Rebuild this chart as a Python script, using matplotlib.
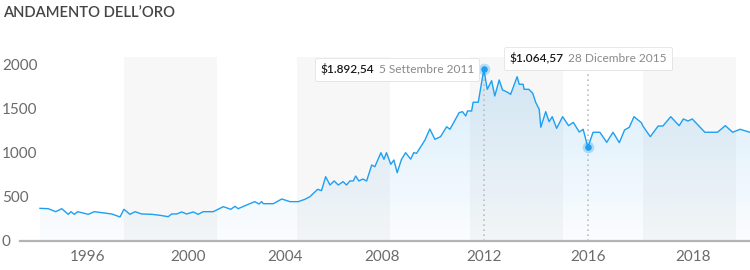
import numpy as np
import matplotlib
matplotlib.use("Agg")
import matplotlib.pyplot as plt
from matplotlib import patheffects
from matplotlib.offsetbox import TextArea, HPacker, AnnotationBbox

plt.rcParams['font.family'] = ['Lato', 'DejaVu Sans']

# gold price (USD/oz)
years = [1994.08, 1994.41, 1994.71, 1994.95, 1995.21, 1995.32, 1995.45, 1995.59, 1996.01, 1996.25,
         1996.95, 1997.28, 1997.44, 1997.68, 1997.88, 1998.15, 1998.55, 1998.88, 1999.21, 1999.35,
         1999.55, 1999.75, 1999.95, 2000.22, 2000.42, 2000.63, 2001.04, 2001.46, 2001.77, 2001.94,
         2002.07, 2002.42, 2002.76, 2002.93, 2003.04, 2003.11, 2003.52, 2003.87, 2004.21, 2004.55,
         2004.82, 2005.03, 2005.35, 2005.51, 2005.68, 2005.86, 2006.03, 2006.20, 2006.40, 2006.54,
         2006.68, 2006.82, 2006.92, 2007.05, 2007.21, 2007.37, 2007.58, 2007.71, 2007.96, 2008.08,
         2008.18, 2008.35, 2008.47, 2008.60, 2008.77, 2008.93, 2009.13, 2009.25, 2009.36, 2009.69,
         2009.88, 2010.08, 2010.30, 2010.54, 2010.67, 2011.03, 2011.16, 2011.29, 2011.36, 2011.52,
         2011.58, 2011.78, 2012.00, 2012.13, 2012.30, 2012.42, 2012.59, 2012.72, 2012.87, 2013.03,
         2013.28, 2013.36, 2013.51, 2013.55, 2013.73, 2013.88, 2014.00, 2014.13, 2014.19, 2014.38,
         2014.51, 2014.63, 2014.80, 2015.03, 2015.26, 2015.44, 2015.67, 2015.82, 2016.00, 2016.10,
         2016.23, 2016.36, 2016.48, 2016.60, 2016.70, 2016.79, 2016.88, 2017.02, 2017.05, 2017.19,
         2017.34, 2017.43, 2017.58, 2017.74, 2017.82, 2017.91, 2017.99, 2018.23, 2018.47, 2018.62,
         2018.76, 2018.90, 2019.09]
prices = [371, 367, 333, 367, 303, 333, 303, 333, 303, 333,
          307, 273, 360, 303, 333, 307, 303, 292, 276, 307,
          307, 330, 307, 330, 303, 333, 333, 390, 360, 394,
          367, 409, 447, 420, 447, 424, 424, 477, 447, 447,
          473, 503, 587, 572, 730, 636, 682, 636, 674, 636,
          682, 682, 738, 682, 704, 682, 863, 844, 1003, 928,
          1003, 871, 920, 776, 928, 1003, 930, 1003, 996, 1147,
          1272, 1155, 1185, 1298, 1269, 1458, 1469, 1420, 1477, 1477,
          1576, 1576, 1950, 1723, 1821, 1647, 1829, 1715, 1696, 1666,
          1866, 1780, 1780, 1723, 1723, 1678, 1571, 1496, 1292, 1469,
          1355, 1412, 1280, 1412, 1310, 1348, 1238, 1269, 1064.57, 1235,
          1235, 1121, 1235, 1117, 1261, 1292, 1412, 1344, 1306, 1185,
          1306, 1306, 1412, 1310, 1386, 1363, 1386, 1235, 1235, 1310,
          1235, 1269, 1235]

tick_years = [1996, 2000, 2004, 2008, 2012, 2016, 2018]
y_ticks = [0, 500, 1000, 1500, 2000]

peak_idx = 82
low_idx = 108
peak_value = "$1.892,54"
peak_date = "5 Settembre 2011"
low_value = "$1.064,57"
low_date = "28 Dicembre 2015"

# the source chart spaces its labels unevenly, so map years through anchor points
anchor_years = [1993, 1994, 1996, 2000, 2004, 2008, 2012, 2016, 2018, 2020]
anchor_pos = [13, 38, 88, 188, 285, 382, 484, 588, 693, 798]

# alternating grey background bands
bands = [(1997.44, 2001.20), (2004.49, 2008.31), (2011.45, 2015.04), (2017.05, 2018.82)]

line_col = '#1e9ff2'

fig = plt.figure(figsize=(7.5, 2.7), dpi=100)
ax = fig.add_axes([20 / 750, 1 - 241 / 270, 730 / 750, 184 / 270])
ax.set_xscale('function', functions=(lambda v: np.interp(v, anchor_years, anchor_pos),
                                     lambda p: np.interp(p, anchor_pos, anchor_years)))
x0, x1 = 1993.28, 2019.09

for a, b in bands:
    ax.axvspan(a, b, color='#f7f7f7', lw=0, zorder=0)

# gradient fill under the line
poly = ax.fill_between(years, prices, 0, color='none', lw=0)
grad = np.zeros((256, 1, 4))
t = np.linspace(0, 1, 256)
grad[:, 0, 0] = 30 / 255
grad[:, 0, 1] = 150 / 255
grad[:, 0, 2] = 230 / 255
grad[:, 0, 3] = 0.02 + 0.16 * t
im = ax.imshow(grad, extent=[x0, x1, 0, 2000], aspect='auto', origin='lower', zorder=1,
               interpolation='bilinear')
im.set_clip_path(poly.get_paths()[0], transform=ax.transData)
ax.set_xlim(x0, x1)
ax.set_ylim(0, 2090)

ax.plot(years, prices, color=line_col, lw=1.0, zorder=3)

# dotted guide lines
ax.vlines(years[peak_idx], 0, prices[peak_idx], colors='#bdbdbd', lw=1.2,
          linestyles=(0, (1, 2)), zorder=2)
ax.vlines(years[low_idx], 0, 2090, colors='#bdbdbd', lw=1.2,
          linestyles=(0, (1, 2)), zorder=2)

for i in (peak_idx, low_idx):
    ax.scatter([years[i]], [prices[i]], s=70, color=line_col, alpha=0.3, lw=0, zorder=4)
    ax.scatter([years[i]], [prices[i]], s=22, color=line_col, lw=0, zorder=5)


def tooltip(i, value, date, offset, align):
    parts = [TextArea(value, textprops=dict(color='#1a1a1a', size=8.6, weight='semibold')),
             TextArea(date, textprops=dict(color='#8a8a8a', size=8.6))]
    box = HPacker(children=parts, pad=0, sep=3, align='baseline')
    ab = AnnotationBbox(box, (years[i], prices[i]), xybox=offset, boxcoords='offset points',
                        box_alignment=align, pad=0.4, frameon=True, zorder=6,
                        bboxprops=dict(boxstyle='round,pad=0.4,rounding_size=0.15',
                                       fc='white', ec='#e4e4e4', lw=0.6))
    ab.patch.set_path_effects([patheffects.SimplePatchShadow(offset=(0.6, -1.0), alpha=0.12),
                               patheffects.Normal()])
    ax.add_artist(ab)


tooltip(peak_idx, peak_value, peak_date, (-7.2, 0), (1, 0.5))
tooltip(low_idx, low_value, low_date, (0, 64), (0.5, 0.5))

for s in ('left', 'right', 'top'):
    ax.spines[s].set_visible(False)
ax.spines['bottom'].set_color('#b3b3b3')
ax.spines['bottom'].set_linewidth(1.6)
ax.spines['bottom'].set_zorder(7)

ax.set_xticks(tick_years)
ax.set_xticklabels([str(y) for y in tick_years])
ax.xaxis.set_minor_locator(plt.NullLocator())
ax.set_yticks(y_ticks)
ax.set_yticklabels([str(v) for v in y_ticks])
ax.tick_params(axis='x', length=0, pad=6.5, labelsize=11, labelcolor='#6b6b6b')
ax.tick_params(axis='y', length=0, pad=13, labelsize=11, labelcolor='#6b6b6b')
for lab in ax.get_yticklabels():
    lab.set_horizontalalignment('left')

fig.text(3 / 750, 1 - 13 / 270, "ANDAMENTO DELL\u2019ORO", va='center', ha='left',
         size=10.6, weight='semibold', color='#444444')

fig.savefig('out.png', dpi=100, facecolor='white')
